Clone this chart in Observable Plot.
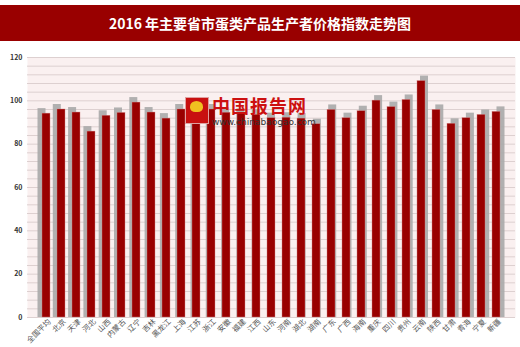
<!DOCTYPE html>
<html>
<head>
<meta charset="utf-8">
<script src="https://cdn.jsdelivr.net/npm/d3@7"></script>
<script src="https://cdn.jsdelivr.net/npm/@observablehq/plot@0.6"></script>
<style>
  html, body { margin: 0; padding: 0; background: #fff; }
  body { width: 520px; height: 347px; position: relative; overflow: hidden; font-family: "Noto Sans CJK SC", "Noto Sans", sans-serif; }
  #title { position: absolute; left: 0; top: 5px; width: 520px; height: 36px; background: #990000; color: #fff;
           font-weight: bold; font-size: 14px; line-height: 36px; text-align: center; font-family: "Noto Sans CJK SC", sans-serif; }
  #chart { position: absolute; left: 0; top: 41px; }
  #wm { position: absolute; left: 185px; top: 96px; width: 125px; height: 32px; pointer-events: none; }
  #wm .logo { position: absolute; left: 0; top: 1px; width: 22px; height: 25px; background: #c81010; border: 1px solid #e0a0a0; }
  #wm .logo span { position: absolute; left: 4px; top: 3px; width: 13px; height: 11px; background: #f0c020; border-radius: 50% 50% 40% 40%; }
  #wm .cn { position: absolute; left: 27px; top: 0px; height: 19px; line-height: 19px; color: #cc1010; font-weight: bold; font-size: 18px; letter-spacing: 1px; white-space: nowrap; font-family: "Noto Sans CJK SC", sans-serif; }
  #wm .en { position: absolute; left: 27px; top: 21px; height: 10px; line-height: 10px; color: #333; font-size: 9px; white-space: nowrap; font-family: "DejaVu Sans", sans-serif; }
</style>
</head>
<body>
<div id="title">2016 年主要省市蛋类产品生产者价格指数走势图</div>
<div id="chart"></div>
<div id="wm"><div class="logo"><span></span></div><div class="cn">中国报告网</div><div class="en">www.chinabaogao.com</div></div>
<script>
const categories = ["全国平均","北京","天津","河北","山西","内蒙古","辽宁","吉林","黑龙江","上海","江苏","浙江","安徽","福建","江西","山东","河南","湖北","湖南","广东","广西","海南","重庆","四川","贵州","云南","陕西","甘肃","青海","宁夏","新疆"];
const values = [94.1,96.0,94.6,85.8,93.1,94.4,99.2,94.6,91.8,96.0,96.3,96.0,94.5,94.0,93.5,92.0,92.2,91.8,89.2,95.8,92.0,95.2,100.1,97.1,100.4,109.1,95.8,89.4,92.0,93.5,94.9];
const yTicks = [0,20,40,60,80,100,120];
const gridTicks = d3.range(0, 121, 4);

const data = categories.map((c, i) => ({category: c, value: values[i], idx: i}));

const shadowMarks = data.map(d => Plot.barY([d], {
  x: "category", y: "value", fill: "#a8a8a8", fillOpacity: 0.9,
  dx: (d.idx - 15) * 0.3, insetTop: -5
}));

const chart = Plot.plot({
  width: 520,
  height: 306,
  marginTop: 16,
  marginBottom: 30,
  marginLeft: 27,
  marginRight: 5,
  style: {fontFamily: "'Noto Sans CJK SC', sans-serif", background: "transparent"},
  x: {domain: categories, paddingInner: 0.5, paddingOuter: 0.25, label: null},
  y: {domain: [0, 120], ticks: yTicks, label: null},
  marks: [
    Plot.frame({fill: "#faf0f0", stroke: null}),
    Plot.ruleY(gridTicks, {stroke: "#ddd0d0", strokeWidth: 1}),
    ...shadowMarks,
    Plot.barY(data, {x: "category", y: "value", fill: "#990000", stroke: "#d08080", strokeWidth: 0.4}),
    Plot.axisY({ticks: yTicks, tickSize: 0, tickPadding: 5, fontSize: 7, fontWeight: "bold", fill: "#333", label: null}),
    Plot.axisX({tickSize: 0, tickRotate: -45, textAnchor: "end", lineAnchor: "middle", tickPadding: 3, dx: 3, fontSize: 7.5, fill: "#555", label: null})
  ]
});
document.getElementById("chart").appendChild(chart);
</script>
</body>
</html>
